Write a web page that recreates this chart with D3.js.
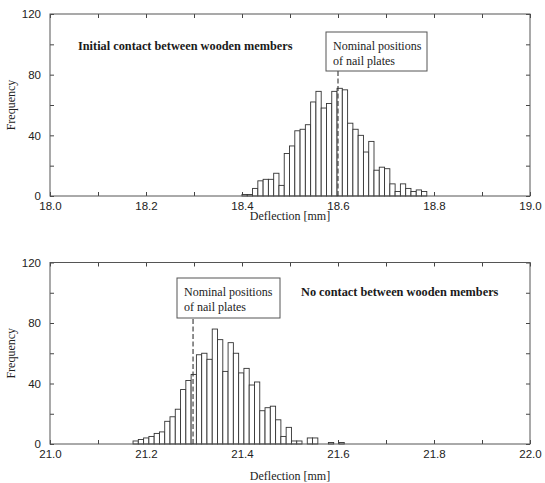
<!DOCTYPE html>
<html>
<head>
<meta charset="utf-8">
<script src="https://cdn.jsdelivr.net/npm/d3@7"></script>
<style>
  body { margin: 0; background: #fff; }
  svg { display: block; font-family: 'Liberation Serif', 'Times New Roman', serif; }
  .tick text { font-size: 11.5px; fill: #222; }
  .tick line { stroke: #444; }
</style>
</head>
<body>
<svg id="chart"></svg>
<script>
// histogram counts (bins of 0.011 mm)
const binWidth = 0.011;

const topBinStart = 18.40;
const topCounts = [1, 1, 5, 10, 11, 11, 15, 7, 28, 33, 43, 44, 47, 62, 69, 58, 61, 69, 71, 70,
  48, 44, 40, 29, 36, 17, 19, 18, 8, 3, 8, 5, 3, 4, 3];
const topNominal = 18.6;
const topXDomain = [18.0, 19.0];
const topXLabels = [18.0, 18.2, 18.4, 18.6, 18.8, 19.0];
const topXMinor = [18.1, 18.3, 18.5, 18.7, 18.9];
const topTitle = 'Initial contact between wooden members';

const bottomBinStart = 21.173;
const bottomCounts = [2, 3, 4, 5, 7, 8, 15, 18, 23, 36, 42, 46, 59, 60, 56, 76, 69, 48, 67, 60,
  47, 50, 39, 41, 22, 24, 25, 16, 5, 11, 2, 2, 0, 4, 4, 0, 0, 1, 0, 1];
const bottomNominal = 21.298;
const bottomXDomain = [21.0, 22.0];
const bottomXLabels = [21.0, 21.2, 21.4, 21.6, 21.8, 22.0];
const bottomXMinor = [21.1, 21.3, 21.5, 21.7, 21.9];
const bottomTitle = 'No contact between wooden members';

const yLabels = [0, 40, 80, 120];
const yMinor = [20, 60, 100];
const noteLines = ['Nominal positions', 'of nail plates'];

const svg = d3.select('#chart')
  .attr('width', 545)
  .attr('height', 483);

const width = 480;

function drawPanel(opts) {
  const height = opts.height;
  const g = svg.append('g')
    .attr('transform', `translate(${opts.left},${opts.top})`);

  const x = d3.scaleLinear().domain(opts.xDomain).range([0, width]);
  const y = d3.scaleLinear().domain([0, 120]).range([height, 0]);

  const fmt = d3.format('.1f');

  // ticks, inward on all four sides
  g.append('g')
    .attr('transform', `translate(0,${height})`)
    .call(d3.axisBottom(x).tickValues(opts.xLabels).tickSize(-4).tickPadding(6).tickFormat(fmt));
  g.append('g')
    .attr('transform', `translate(0,${height})`)
    .call(d3.axisBottom(x).tickValues(opts.xMinor).tickSize(-4).tickFormat(''));
  g.append('g')
    .call(d3.axisTop(x).tickValues(opts.xLabels.concat(opts.xMinor)).tickSize(-4).tickFormat(''));
  g.append('g')
    .call(d3.axisLeft(y).tickValues(yLabels).tickSize(-4).tickPadding(9));
  g.append('g')
    .call(d3.axisLeft(y).tickValues(yMinor).tickSize(-4).tickFormat(''));
  g.append('g')
    .attr('transform', `translate(${width},0)`)
    .call(d3.axisRight(y).tickValues(yLabels.concat(yMinor)).tickSize(-4).tickFormat(''));
  g.selectAll('.domain').remove();

  // bars
  const bw = x(opts.xDomain[0] + binWidth) - x(opts.xDomain[0]);
  g.selectAll('rect.bar')
    .data(opts.counts)
    .join('rect')
    .attr('class', 'bar')
    .attr('x', (d, i) => x(opts.binStart + i * binWidth))
    .attr('y', d => y(d))
    .attr('width', bw)
    .attr('height', d => height - y(d))
    .attr('fill', '#fff')
    .attr('stroke', '#333')
    .attr('stroke-width', 0.9);

  // frame
  g.append('rect')
    .attr('width', width)
    .attr('height', height)
    .attr('fill', 'none')
    .attr('stroke', '#555')
    .attr('stroke-width', 1);

  // nominal position line + note box
  const nx = x(opts.nominal);
  g.append('line')
    .attr('x1', nx).attr('x2', nx)
    .attr('y1', height).attr('y2', opts.box.y + opts.box.h)
    .attr('stroke', '#333')
    .attr('stroke-width', 1.1)
    .attr('stroke-dasharray', '5,2.5');

  g.append('rect')
    .attr('x', opts.box.x).attr('y', opts.box.y)
    .attr('width', opts.box.w).attr('height', opts.box.h)
    .attr('fill', '#fff')
    .attr('stroke', '#555')
    .attr('stroke-width', 1);

  g.selectAll('text.note')
    .data(noteLines)
    .join('text')
    .attr('class', 'note')
    .attr('x', opts.box.x + 7)
    .attr('y', (d, i) => opts.box.y + 18 + i * 14.5)
    .attr('font-size', 12)
    .attr('fill', '#222')
    .text(d => d);

  g.append('text')
    .attr('x', opts.titleX)
    .attr('y', opts.titleY)
    .attr('font-size', 12.3)
    .attr('font-weight', 'bold')
    .attr('fill', '#1a1a1a')
    .text(opts.title);

  // axis titles
  g.append('text')
    .attr('x', width / 2)
    .attr('y', opts.xTitleY)
    .attr('text-anchor', 'middle')
    .attr('font-size', 12)
    .attr('fill', '#222')
    .text('Deflection [mm]');

  g.append('text')
    .attr('transform', `translate(${-35},${height / 2}) rotate(-90)`)
    .attr('text-anchor', 'middle')
    .attr('font-size', 12)
    .attr('fill', '#222')
    .text('Frequency');
}

drawPanel({
  left: 50, top: 14, height: 182,
  xDomain: topXDomain, xLabels: topXLabels, xMinor: topXMinor,
  counts: topCounts, binStart: topBinStart, nominal: topNominal,
  box: { x: 276, y: 18, w: 101, h: 39 },
  title: topTitle, titleX: 28, titleY: 36,
  xTitleY: 206
});

drawPanel({
  left: 50, top: 262.5, height: 181.5,
  xDomain: bottomXDomain, xLabels: bottomXLabels, xMinor: bottomXMinor,
  counts: bottomCounts, binStart: bottomBinStart, nominal: bottomNominal,
  box: { x: 127, y: 15.5, w: 103, h: 40 },
  title: bottomTitle, titleX: 251, titleY: 33,
  xTitleY: 217.5
});
</script>
</body>
</html>
